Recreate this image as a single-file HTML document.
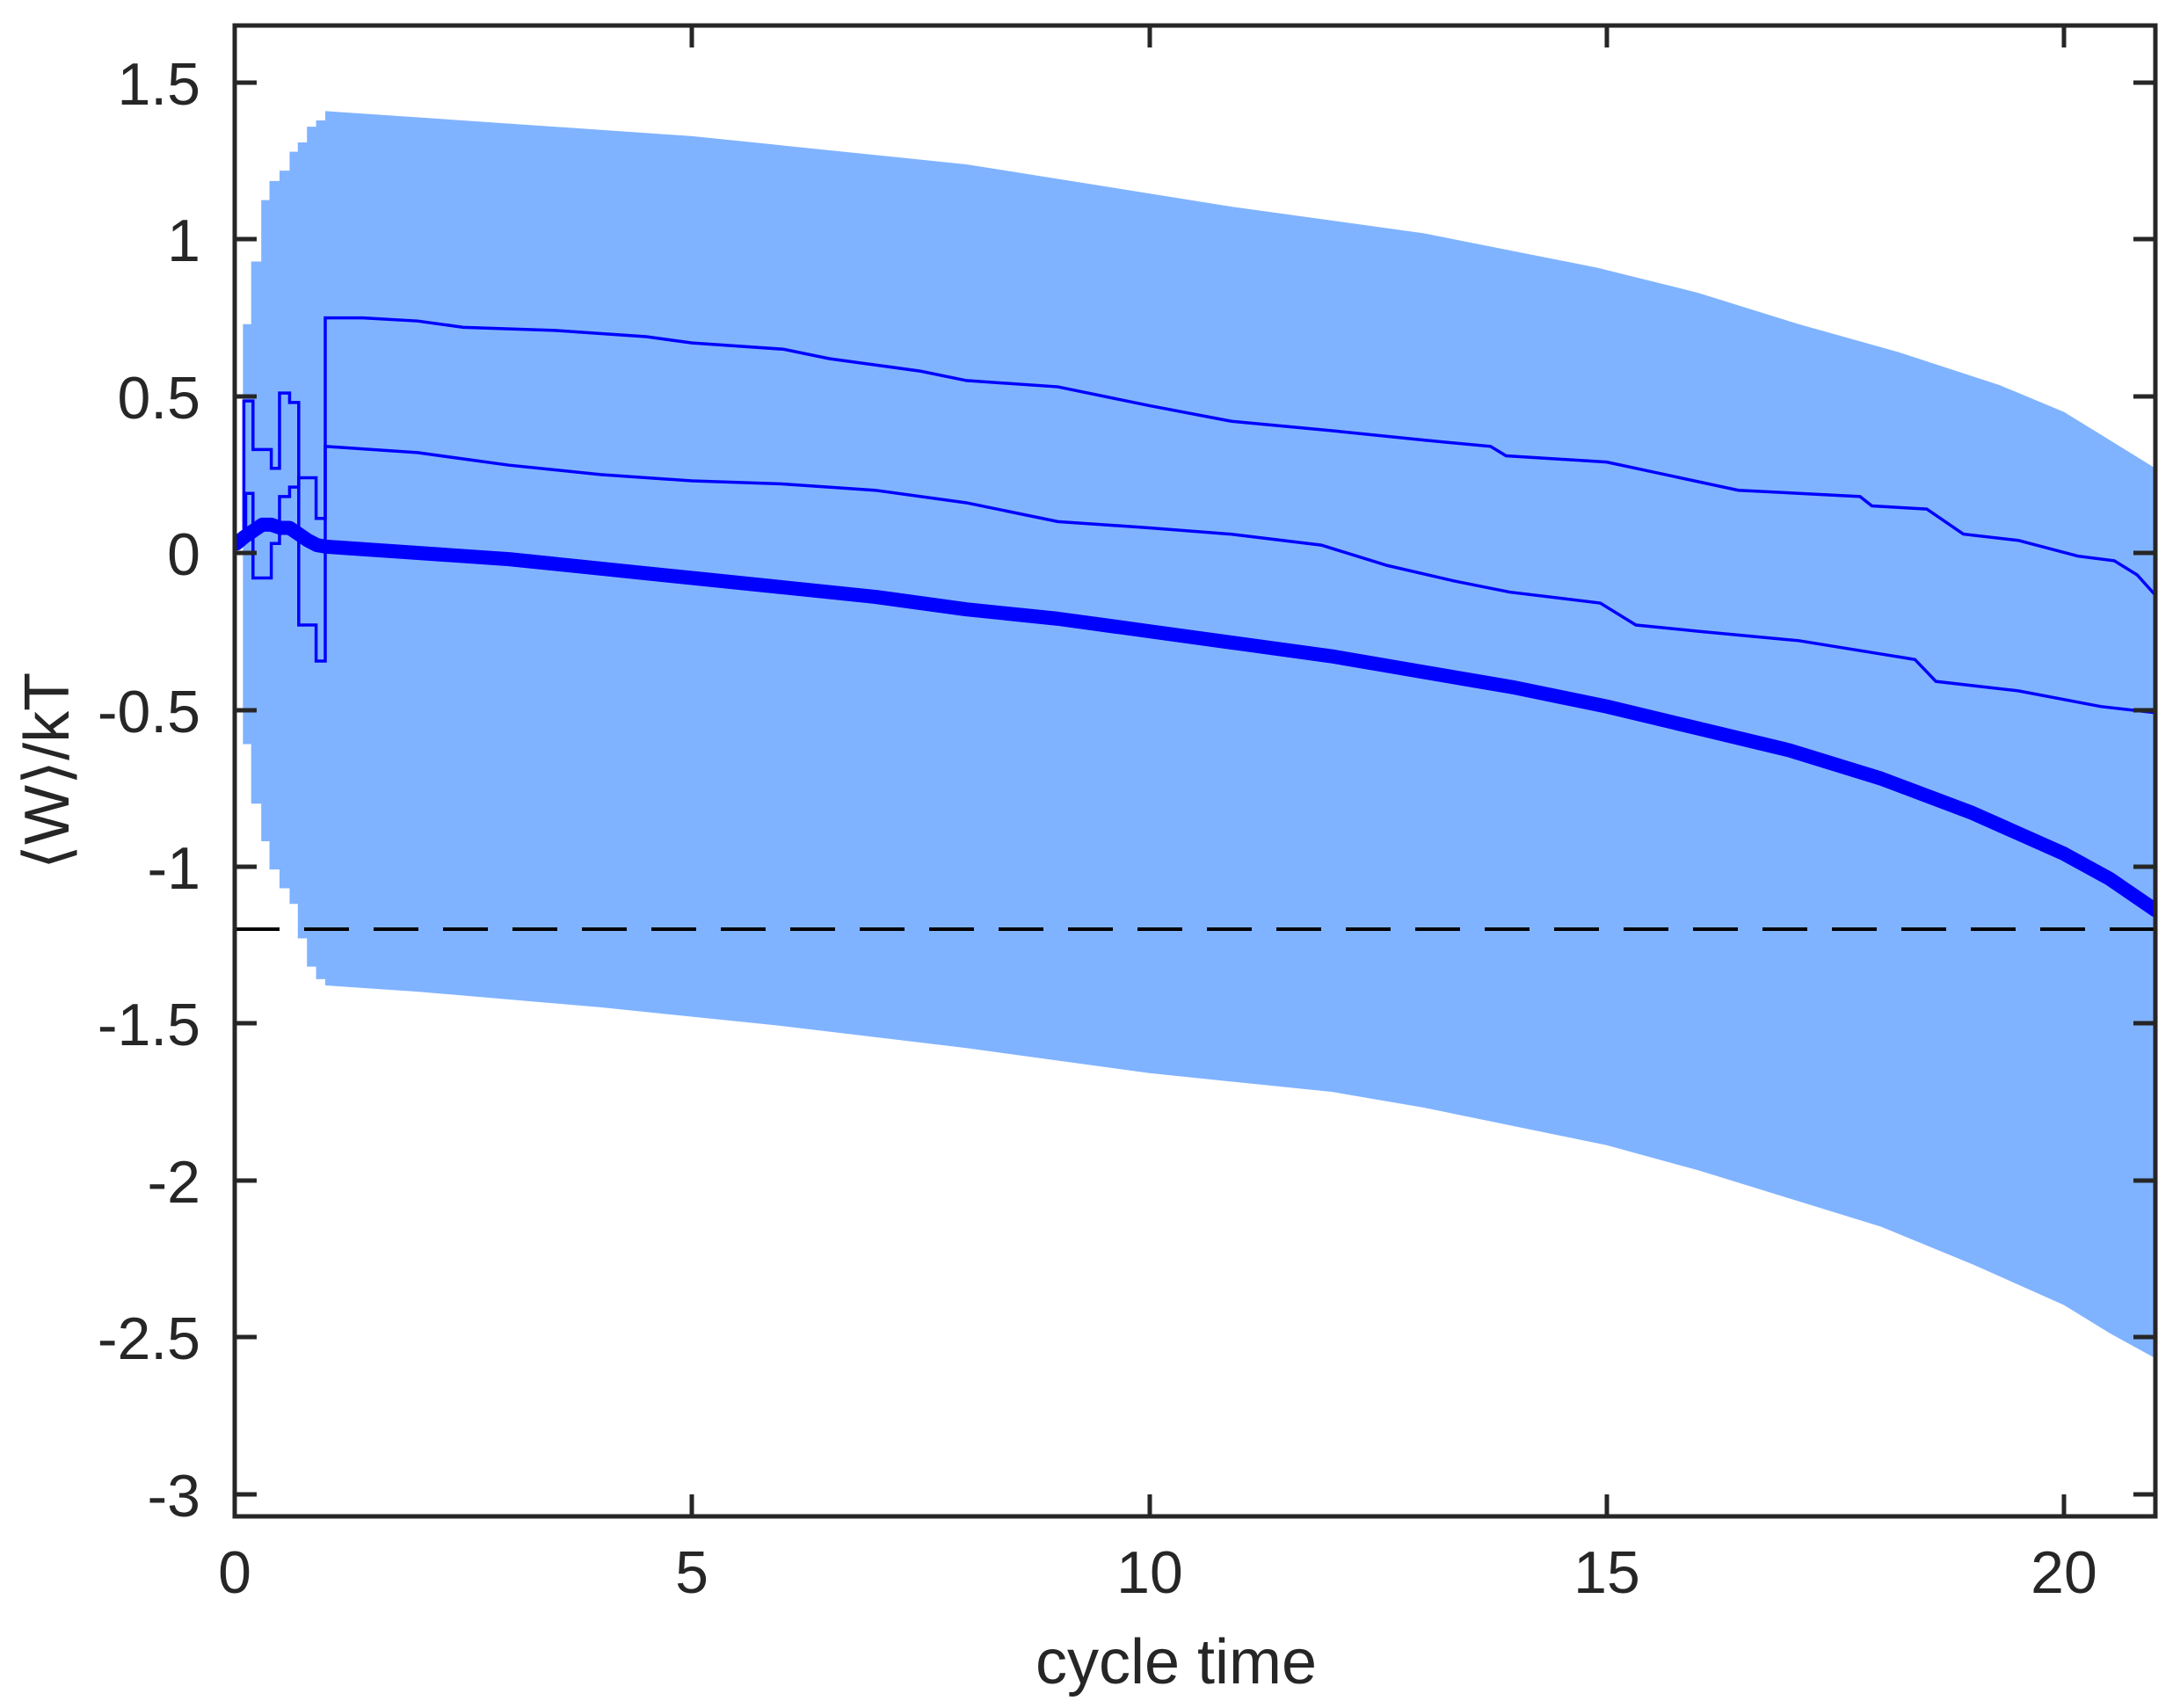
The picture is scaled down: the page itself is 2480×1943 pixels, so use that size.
<!DOCTYPE html>
<html><head><meta charset="utf-8"><style>
html,body{margin:0;padding:0;background:#fff;}
svg{display:block;}
text{font-family:"Liberation Sans",sans-serif;fill:#262626;}
</style></head><body>
<svg width="2480" height="1943" viewBox="0 0 2480 1943" xmlns="http://www.w3.org/2000/svg">
<defs><clipPath id="c"><rect x="267" y="29" width="2185" height="1696"/></clipPath></defs>
<g clip-path="url(#c)">
<g transform="translate(267,629) scale(104.05,-356.5)">
<polygon fill="#80b3ff" stroke="none" points="
0.09,0.73 0.18,0.73 0.18,0.93 0.29,0.93 0.29,1.126 0.38,1.126 0.38,1.187 0.49,1.187 0.49,1.22 0.6,1.22 0.6,1.28 0.69,1.28 0.69,1.31 0.79,1.31 0.79,1.36 0.89,1.36 0.89,1.38 0.99,1.38 0.99,1.41
3,1.37 5,1.33 8,1.24 10.9,1.105 13,1.02 14.9,0.91 16,0.83 17.1,0.73 18.2,0.64 19.3,0.535 20,0.45 20.5,0.36 21,0.27
21,-2.57 20.5,-2.49 20,-2.4 19,-2.27 18,-2.15 17,-2.06 16,-1.97 15,-1.89 14,-1.83 13,-1.77 12,-1.72 10,-1.66 8,-1.58 6,-1.51 4,-1.45 2,-1.4 0.99,-1.38
0.99,-1.36 0.89,-1.36 0.89,-1.32 0.79,-1.32 0.79,-1.23 0.69,-1.23 0.69,-1.12 0.6,-1.12 0.6,-1.07 0.49,-1.07 0.49,-1.01 0.38,-1.01 0.38,-0.92 0.29,-0.92 0.29,-0.8 0.18,-0.8 0.18,-0.61 0.09,-0.61"/>
<g fill="none" stroke="#0000ff" stroke-width="3.5" stroke-linejoin="miter">
<polyline vector-effect="non-scaling-stroke" points="0.1,0.03 0.1,0.485 0.2,0.485 0.2,0.33 0.4,0.33 0.4,0.27 0.49,0.27 0.49,0.51 0.6,0.51 0.6,0.48 0.7,0.48 0.7,-0.23 0.89,-0.23 0.89,-0.345 0.99,-0.345 0.99,0.75 1.4,0.75 2,0.74 2.5,0.72 3.5,0.71 4.5,0.69 5,0.67 6,0.65 6.5,0.62 7,0.6 7.5,0.58 8,0.55 9,0.53 10,0.47 10.9,0.42 12,0.39 13,0.36 13.73,0.34 13.9,0.31 15,0.29 16.44,0.2 17.77,0.18 17.9,0.15 18.5,0.14 18.9,0.06 19.5,0.04 20.15,-0.01 20.55,-0.025 20.8,-0.07 21,-0.135"/>
<polyline vector-effect="non-scaling-stroke" points="0.12,0.03 0.12,0.19 0.2,0.19 0.2,-0.08 0.4,-0.08 0.4,0.03 0.49,0.03 0.49,0.18 0.6,0.18 0.6,0.21 0.7,0.21 0.7,0.24 0.8,0.24 0.89,0.24 0.89,0.11 0.99,0.11 0.99,0.34 1.5,0.33 2,0.32 3,0.28 4,0.25 5,0.23 6,0.22 7,0.2 8,0.16 9,0.1 10,0.08 10.89,0.06 11.88,0.025 12.6,-0.04 13.34,-0.09 13.94,-0.125 14.93,-0.16 15.32,-0.23 16,-0.25 17.1,-0.28 18.37,-0.34 18.6,-0.41 19.5,-0.44 20.4,-0.49 21,-0.51"/>
</g>
<polyline fill="none" stroke="#0000ff" stroke-width="16" stroke-linecap="round" stroke-linejoin="round" vector-effect="non-scaling-stroke" points="0.02,0.03 0.1,0.05 0.2,0.07 0.3,0.09 0.4,0.09 0.5,0.08 0.6,0.08 0.7,0.06 0.8,0.04 0.9,0.025 1,0.02 2,0.0 3,-0.02 4,-0.05 5,-0.08 6,-0.11 7,-0.14 8,-0.18 9,-0.21 10,-0.25 11,-0.29 12,-0.33 13,-0.38 14,-0.43 15,-0.49 16,-0.56 17,-0.63 18,-0.72 19,-0.83 20,-0.96 20.5,-1.04 21,-1.14"/>
</g>
<line x1="267" y1="1057" x2="2452" y2="1057" stroke="#000" stroke-width="4" stroke-dasharray="51,28"/>
</g>
<g stroke="#262626" stroke-width="5" fill="none">
<rect x="267" y="29" width="2185" height="1696"/>
<path d="M267,94 h25 M267,272 h25 M267,451 h25 M267,629 h25 M267,808 h25 M267,986 h25 M267,1164 h25 M267,1343 h25 M267,1521 h25 M267,1700 h25
M2452,94 h-25 M2452,272 h-25 M2452,451 h-25 M2452,629 h-25 M2452,808 h-25 M2452,986 h-25 M2452,1164 h-25 M2452,1343 h-25 M2452,1521 h-25 M2452,1700 h-25
M787,1725 v-25 M1308,1725 v-25 M1828,1725 v-25 M2348,1725 v-25
M787,29 v25 M1308,29 v25 M1828,29 v25 M2348,29 v25"/>
</g>
<g font-size="68" text-anchor="end">
<text x="228" y="119">1.5</text>
<text x="228" y="297">1</text>
<text x="228" y="476">0.5</text>
<text x="228" y="654">0</text>
<text x="228" y="833">-0.5</text>
<text x="228" y="1011">-1</text>
<text x="228" y="1189">-1.5</text>
<text x="228" y="1368">-2</text>
<text x="228" y="1546">-2.5</text>
<text x="228" y="1725">-3</text>
</g>
<g font-size="68" text-anchor="middle">
<text x="267" y="1812">0</text>
<text x="787" y="1812">5</text>
<text x="1308" y="1812">10</text>
<text x="1828" y="1812">15</text>
<text x="2348" y="1812">20</text>
</g>
<text x="1338" y="1915" font-size="72" text-anchor="middle">cycle time</text>
<text transform="translate(78,877) rotate(-90)" font-size="72" text-anchor="middle">⟨W⟩/kT</text>
</svg>
</body></html>
